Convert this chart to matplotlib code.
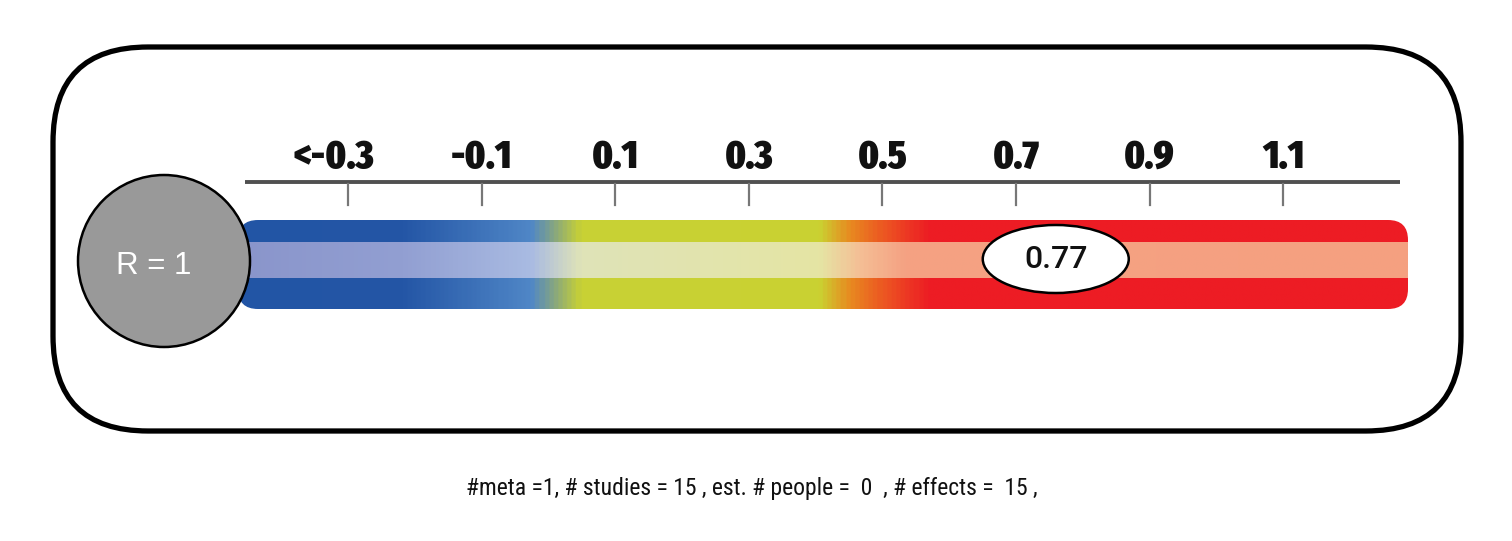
import numpy as np
import matplotlib
matplotlib.use("Agg")
import matplotlib.pyplot as plt
from matplotlib.patches import FancyBboxPatch, Circle, Ellipse
from matplotlib.colors import LinearSegmentedColormap

# =========================
# Data
# =========================
tick_values = [-0.3, -0.1, 0.1, 0.3, 0.5, 0.7, 0.9, 1.1]
tick_labels = ["<-0.3", "-0.1", "0.1", "0.3", "0.5", "0.7", "0.9", "1.1"]
effect_value = 0.77
r_label = "R = 1"
n_meta = 1
n_studies = 15
n_people = 0
n_effects = 15

# =========================
# Canvas (pixel coordinates)
# =========================
W, H = 1512, 541
fig = plt.figure(figsize=(W / 100, H / 100), dpi=100)
ax = fig.add_axes([0, 0, 1, 1])
ax.axis("off")

# value -> pixel x
x0, dx = 348, 133.6
def vx(v):
    return x0 + (v - tick_values[0]) / 0.2 * dx

# outer rounded frame
frame = FancyBboxPatch((53, 47), 1408, 384,
                       boxstyle="round,pad=0,rounding_size=95",
                       fill=False, ec="black", lw=3.8)
ax.add_patch(frame)

# gradient bar (three stripes)
bar_left, bar_right = 238, 1408
bar_top, bar_bot = 220, 309
mid_top, mid_bot = 242, 278

dark_cmap = LinearSegmentedColormap.from_list("dark", [
    (0.00, "#2255a5"), (0.14, "#2456a6"), (0.25, "#5087c7"),
    (0.27, "#8aa87c"), (0.292, "#c8d135"), (0.497, "#cad232"),
    (0.523, "#e88a20"), (0.55, "#ec5a22"), (0.591, "#ed1c24"),
    (1.00, "#ed1c24")])
light_cmap = LinearSegmentedColormap.from_list("light", [
    (0.00, "#8a95cb"), (0.14, "#929fd2"), (0.25, "#a9bbe2"),
    (0.292, "#dfe3b8"), (0.497, "#e5e5a4"), (0.53, "#f4c096"),
    (0.57, "#f5a283"), (1.00, "#f5a080")])

grad = np.linspace(0, 1, 800)[None, :]
clip = FancyBboxPatch((bar_left, bar_top), bar_right - bar_left, bar_bot - bar_top,
                      boxstyle="round,pad=0,rounding_size=20",
                      fc="none", ec="none")
ax.add_patch(clip)
for cmap, (y1, y2) in [(dark_cmap, (bar_top, bar_bot)), (light_cmap, (mid_top, mid_bot))]:
    im = ax.imshow(grad, cmap=cmap, aspect="auto",
                   extent=(bar_left, bar_right, y2, y1),
                   interpolation="bilinear", zorder=2)
    im.set_clip_path(clip)
ax.set_xlim(0, W)
ax.set_ylim(H, 0)

# scale line, ticks, labels
ax.plot([245, 1400], [182, 182], color="#505050", lw=2.8, solid_capstyle="butt", zorder=3)
for v, lab in zip(tick_values, tick_labels):
    x = vx(v)
    ax.plot([x, x], [184, 205], color="#777777", lw=1.6, zorder=3)
    # the "<" hangs to the left of the centred number
    shift = -14 if lab.startswith("<") else 0
    ax.text(x + shift, 168, lab, ha="center", va="baseline", fontsize=29,
            fontweight=900,
            family=["Fira Sans Extra Condensed", "Barlow Condensed", "DejaVu Sans"],
            color="#111111")

# R circle
ax.add_patch(Circle((164, 261), 86, fc="#999999", ec="black", lw=1.8, zorder=5))
ax.text(154, 266, r_label, ha="center", va="center", fontsize=22.5,
        color="white", family=["Liberation Sans", "DejaVu Sans"], zorder=6)

# effect estimate marker
ex = vx(effect_value) - 7
ax.add_patch(Ellipse((ex, 259), 146, 68, fc="white", ec="black", lw=1.8, zorder=5))
ax.text(ex, 260, f"{effect_value:.2f}", ha="center", va="center", fontsize=23,
        fontweight=500, color="#111111",
        family=["Roboto", "Liberation Sans", "DejaVu Sans"], zorder=6)

# footer
footer = (f"#meta ={n_meta}, # studies = {n_studies} , est. # people =  {n_people}  , "
          f"# effects =  {n_effects} ,")
ax.text(752, 488, footer, ha="center", va="center", fontsize=17,
        family=["Roboto Condensed", "Open Sans", "DejaVu Sans"], color="#111111")

fig.savefig("out.png", dpi=100)
